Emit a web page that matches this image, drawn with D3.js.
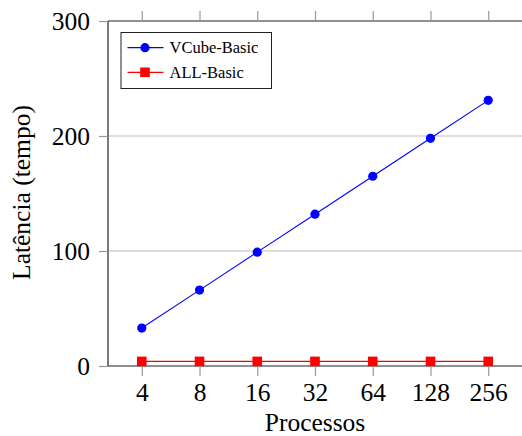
<!DOCTYPE html>
<html>
<head>
<meta charset="utf-8">
<script src="https://cdn.jsdelivr.net/npm/d3@7"></script>
<style>
  html, body { margin: 0; padding: 0; background: #fff; }
  svg { display: block; }
  text { font-family: "Liberation Serif", "Times New Roman", serif; fill: #000; }
</style>
</head>
<body>
<svg id="chart" width="522" height="436"></svg>
<script>
const categories = ["4", "8", "16", "32", "64", "128", "256"];
const vcubeBasic = [33, 66, 99, 132, 165, 198, 231];
const allBasic = [4, 4, 4, 4, 4, 4, 4];
const yTicks = [0, 100, 200, 300];
const seriesNames = ["VCube-Basic", "ALL-Basic"];
const xLabel = "Processos";
const yLabel = "Latência (tempo)";

(function () {
const svg = d3.select("#chart");
const pLeft = 108, pRight = 522, pTop = 21, pBottom = 366;

const x = d3.scalePoint().domain(categories).range([pLeft, pRight]).padding(0.585);
const y = d3.scaleLinear().domain([0, 300]).range([pBottom, pTop]);

// grid lines
svg.append("g").selectAll("line").data([100, 200]).join("line")
  .attr("x1", pLeft).attr("x2", pRight)
  .attr("y1", d => y(d)).attr("y2", d => y(d))
  .attr("stroke", "#bdbdbd").attr("stroke-width", 1);

// axes
const axB = svg.append("g").attr("transform", `translate(0,${pBottom})`)
  .call(d3.axisBottom(x).tickSize(10).tickPadding(7));
const axT = svg.append("g").attr("transform", `translate(0,${pTop})`)
  .call(d3.axisTop(x).tickSize(10).tickFormat(""));
const axL = svg.append("g").attr("transform", `translate(${pLeft},0)`)
  .call(d3.axisLeft(y).tickValues(yTicks).tickSize(9).tickPadding(9));

[axB, axT, axL].forEach(g => {
  g.select(".domain").attr("stroke", "#222").attr("stroke-width", 1.2);
  g.selectAll(".tick line").attr("stroke", "#999").attr("stroke-width", 1.2);
  g.selectAll(".tick text").attr("font-size", 25.5).attr("fill", "#000");
});
axL.select(".domain").attr("d", `M0,${pBottom}V${pTop}`);
axB.select(".domain").attr("d", `M${pLeft},0H${pRight}`);
axT.select(".domain").attr("d", `M${pLeft},0H${pRight}`);

// lines
const line = d3.line().x((d, i) => x(categories[i])).y(d => y(d));
svg.append("path").datum(vcubeBasic).attr("d", line)
  .attr("fill", "none").attr("stroke", "#0000ff").attr("stroke-width", 1.1);
svg.append("path").datum(allBasic).attr("d", line)
  .attr("fill", "none").attr("stroke", "#ff0000").attr("stroke-width", 1.3);

svg.append("g").selectAll("circle").data(vcubeBasic).join("circle")
  .attr("cx", (d, i) => x(categories[i])).attr("cy", d => y(d))
  .attr("r", 4.6).attr("fill", "#0000ff");
svg.append("g").selectAll("rect").data(allBasic).join("rect")
  .attr("x", (d, i) => x(categories[i]) - 4.8).attr("y", d => y(d) - 4.8)
  .attr("width", 9.6).attr("height", 9.6).attr("fill", "#ff0000");

// axis labels
svg.append("text").attr("x", (pLeft + pRight) / 2).attr("y", 431)
  .attr("text-anchor", "middle").attr("font-size", 25.5).text(xLabel);
svg.append("text").attr("transform", `translate(30,${(pTop + pBottom) / 2 - 1}) rotate(-90)`)
  .attr("text-anchor", "middle").attr("font-size", 25.5).text(yLabel);

// legend
const lg = svg.append("g");
lg.append("rect").attr("x", 121).attr("y", 32.5).attr("width", 150.5).attr("height", 56)
  .attr("fill", "#fff").attr("stroke", "#222").attr("stroke-width", 1);
const legendRows = [
  { name: seriesNames[0], color: "#0000ff", shape: "circle", cy: 47.7 },
  { name: seriesNames[1], color: "#ff0000", shape: "square", cy: 72.3 }
];
legendRows.forEach(r => {
  lg.append("line").attr("x1", 127.5).attr("x2", 163.5).attr("y1", r.cy).attr("y2", r.cy)
    .attr("stroke", r.color).attr("stroke-width", 1.2);
  if (r.shape === "circle") {
    lg.append("circle").attr("cx", 145).attr("cy", r.cy).attr("r", 4.6).attr("fill", r.color);
  } else {
    lg.append("rect").attr("x", 145 - 4.8).attr("y", r.cy - 4.8).attr("width", 9.6).attr("height", 9.6).attr("fill", r.color);
  }
  lg.append("text").attr("x", 169.5).attr("y", r.cy).attr("dy", "0.33em")
    .attr("font-size", 16.5).text(r.name);
});
})();
</script>
</body>
</html>
